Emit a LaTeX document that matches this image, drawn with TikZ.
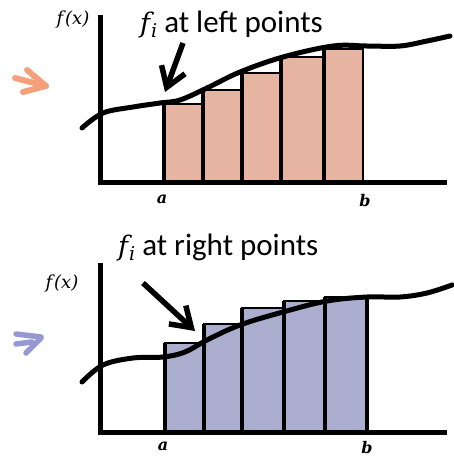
\documentclass[tikz,border=0pt]{standalone}
\usepackage{fontspec}
\setmainfont{Carlito}
\newfontfamily\mserif{DejaVu Serif}
\usetikzlibrary{arrows.meta}
\definecolor{barO}{HTML}{E6B4A0}
\definecolor{arrO}{HTML}{F4A07A}
\definecolor{barB}{HTML}{ACAED0}
\definecolor{arrB}{HTML}{9698D2}
\newcommand{\fsub}{{\mserif\itshape\fontsize{27}{30}\selectfont f\kern1pt\raisebox{-5pt}{\fontsize{19}{20}\selectfont i}}}
\newcommand{\fofx}{{\mserif\itshape f\kern2pt(x)}}
\begin{document}
\begin{tikzpicture}[x=1pt,y=-1pt,
  axisline/.style={line width=5pt, line cap=butt},
  curveline/.style={line width=5pt, line cap=round, line join=round},
  barfillO/.style={fill=barO, draw=black, line width=1.2pt},
  barfillB/.style={fill=barB, draw=black, line width=1.2pt},
  sep/.style={line width=4pt, line cap=butt},
  thinsep/.style={line width=1.5pt},
  ptr/.style={line width=5.5pt, -{Straight Barb[length=19pt,width=25pt]}},
  sidemark/.style={line width=6pt, line cap=round, line join=round},
  big/.style={font=\fontsize{31}{36}\selectfont, inner sep=0pt},
  small/.style={font=\fontsize{18}{20}\selectfont, inner sep=0pt},
  endlbl/.style={font=\mserif\bfseries\itshape\fontsize{16}{18}\selectfont, inner sep=0pt}
]
\useasboundingbox (0,0) rectangle (453,461);

% ---------------- top panel ----------------
\filldraw[barfillO] (164,182) rectangle (203,104);
\filldraw[barfillO] (203,182) rectangle (241.5,90);
\filldraw[barfillO] (241.5,182) rectangle (280.5,73);
\filldraw[barfillO] (280.5,182) rectangle (324,57);
\filldraw[barfillO] (324,182) rectangle (363,49);
\draw[sep] (164,182) -- (164,104);
\draw[sep] (203,182) -- (203,90);
\draw[sep] (241.5,182) -- (241.5,73);
\draw[sep] (280.5,182) -- (280.5,57);
\draw[sep] (324,182) -- (324,49);
\draw[thinsep] (363,182) -- (363,49);

\draw[curveline] plot[smooth, tension=0.6] coordinates {(82,128) (103,113) (133,107) (160,103) (180,100) (207,88) (240,72) (283,57) (333,46) (367,46) (400,46) (427,41) (450,36)};

\draw[axisline] (100,15) -- (100,184.5);
\draw[axisline] (97.5,182) -- (447,182);

\node[small] (fx1) at (73,20) {\fofx};
\node[endlbl] (a1) at (162,199) {a};
\node[endlbl] (b1) at (365,201) {b};
\node[big, anchor=base west] (t1) at (140,32) {\fsub\ at left points};
\coordinate (s1) at (183,43);
\coordinate (e1) at (165,92);
\draw[ptr] (s1) -- (e1);

\draw[arrO, sidemark] (15,78) -- (46,86);
\draw[arrO, sidemark] (27,70) -- (46,86) -- (23,92);

% ---------------- bottom panel ----------------
\filldraw[barfillB] (165,432) rectangle (203.5,343);
\filldraw[barfillB] (203.5,432) rectangle (241.5,324);
\filldraw[barfillB] (241.5,432) rectangle (283.5,308);
\filldraw[barfillB] (283.5,432) rectangle (325,301);
\filldraw[barfillB] (325,432) rectangle (367,297);
\draw[sep] (165,432) -- (165,343);
\draw[sep] (203.5,432) -- (203.5,324);
\draw[sep] (241.5,432) -- (241.5,308);
\draw[sep] (283.5,432) -- (283.5,301);
\draw[sep] (325,432) -- (325,297);
\draw[sep] (367,432) -- (367,297);

\draw[curveline] plot[smooth, tension=0.6] coordinates {(82,382) (103,365) (133,358) (163,357) (185,352) (207,340) (240,325) (283,312) (327,301) (367,297) (400,297) (427,293) (452,285)};

\draw[axisline] (100,263) -- (100,434.5);
\draw[axisline] (97.5,432) -- (447,432);

\node[small] (fx2) at (62,284) {\fofx};
\node[endlbl] (a2) at (163,446) {a};
\node[endlbl] (b2) at (367,448) {b};
\node[big, anchor=base west] (t2) at (118,255) {\fsub\ at right points};
\coordinate (s2) at (143,283);
\coordinate (e2) at (195,331);
\draw[ptr] (s2) -- (e2);

\draw[arrB, line width=5.5pt, line cap=round] (16,334) -- (41,337);
\draw[arrB, line width=5.5pt, line cap=round] (16,344) -- (32,342);
\draw[arrB, line width=5.5pt, line cap=round] (41,338) -- (26,353);
\end{tikzpicture}
\end{document}
